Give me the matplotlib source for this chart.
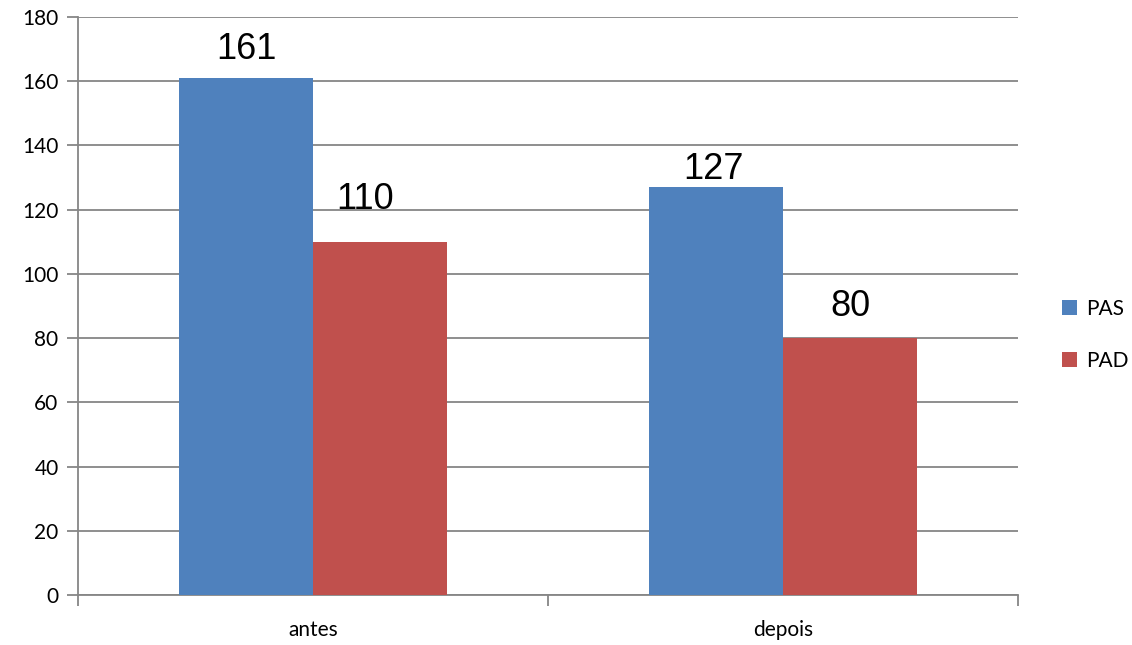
import matplotlib.pyplot as plt
import numpy as np

categories = ["antes", "depois"]
series_names = ["PAS", "PAD"]
pas_values = [161, 127]
pad_values = [110, 80]
y_ticks = [0, 20, 40, 60, 80, 100, 120, 140, 160, 180]

colors = ["#4F81BD", "#C0504D"]
grid_color = "#868686"

# label nudges in points (dx, dy) for each series/category
label_offsets = [[(0, 8), (-2, 0)], [(-11, 18), (0, 10)]]

fig = plt.figure(figsize=(11.32, 6.45), dpi=100)
ax = fig.add_axes([78 / 1132, 1 - 595 / 645, 940 / 1132, 578 / 645])

x = np.arange(len(categories))
width = 0.285
for i, (name, vals) in enumerate(zip(series_names, [pas_values, pad_values])):
    pos = x + (i - 0.5) * width
    ax.bar(pos, vals, width=width, color=colors[i], label=name, zorder=3,
           edgecolor="none")
    for j, (p, v) in enumerate(zip(pos, vals)):
        dx, dy = label_offsets[i][j]
        ax.annotate(str(v), (p, v), xytext=(dx, dy), textcoords="offset points",
                    ha="center", va="bottom", fontsize=26,
                    family="Liberation Sans", color="black", zorder=4)

ax.set_xlim(-0.5, 1.5)
ax.set_ylim(0, 180)
ax.set_yticks(y_ticks)
ax.set_yticklabels([str(t) for t in y_ticks], family="Lato", fontsize=15)
ax.yaxis.grid(True, color=grid_color, linewidth=1.3, zorder=0)

# category boundary ticks on the x axis, labels centred in between
ax.set_xticks([-0.5, 0.5, 1.5])
ax.set_xticklabels([])
ax.set_xticks(x, minor=True)
ax.set_xticklabels(categories, minor=True, family="Lato", fontsize=15)
ax.tick_params(axis="x", which="major", length=8, color=grid_color, width=1.3)
ax.tick_params(axis="x", which="minor", length=0, pad=18)
ax.tick_params(axis="y", length=8, color=grid_color, width=1.3, pad=6)

for side in ["top", "right"]:
    ax.spines[side].set_visible(False)
for side in ["left", "bottom"]:
    ax.spines[side].set_color(grid_color)
    ax.spines[side].set_linewidth(1.3)

ax.legend(loc="center left", bbox_to_anchor=(1.047, 0.45), frameon=False,
          prop={"family": "Lato", "size": 15}, handlelength=0.7,
          handleheight=0.7, handletextpad=0.45, labelspacing=1.55,
          borderpad=0, borderaxespad=0)

fig.savefig("out.png", dpi=100)
